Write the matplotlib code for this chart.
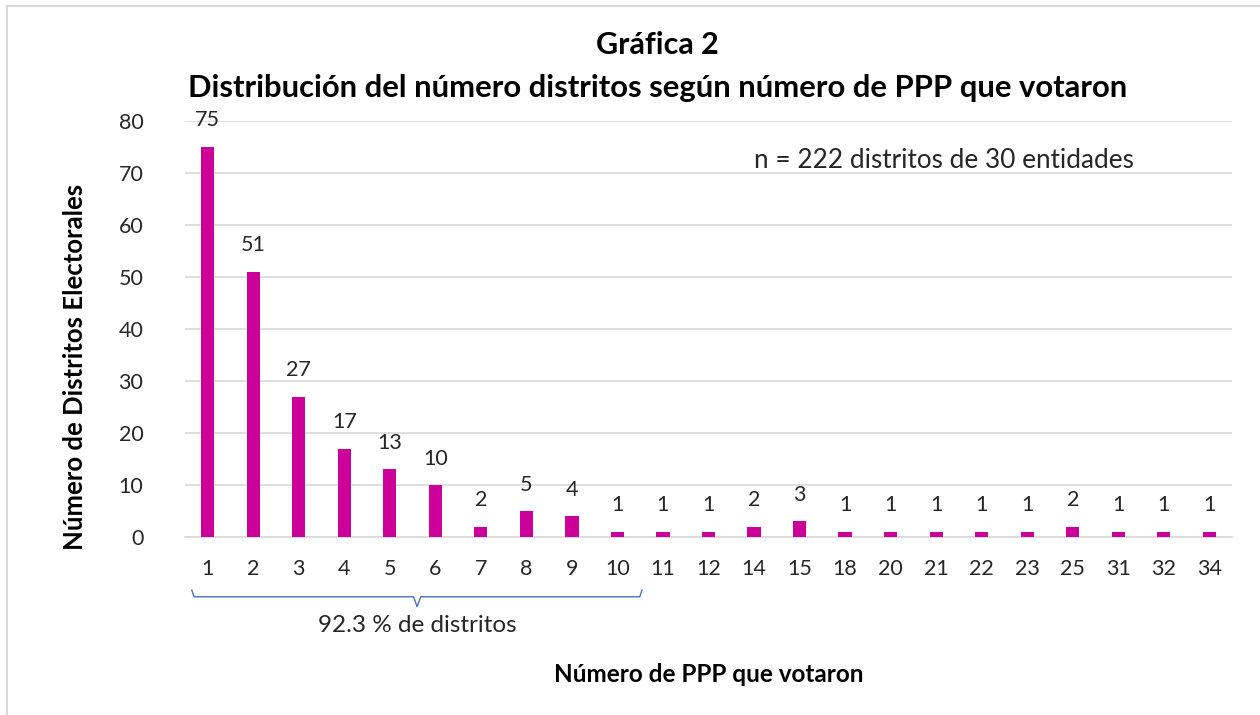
import numpy as np
import matplotlib.pyplot as plt
from matplotlib.lines import Line2D

plt.rcParams['font.family'] = ['Lato', 'DejaVu Sans']

# categorías: número de PPP que votaron
categorias = ['1', '2', '3', '4', '5', '6', '7', '8', '9', '10', '11', '12',
              '14', '15', '18', '20', '21', '22', '23', '25', '31', '32', '34']
distritos = [75, 51, 27, 17, 13, 10, 2, 5, 4, 1, 1, 1, 2, 3, 1, 1, 1, 1, 1,
             2, 1, 1, 1]

color_barra = '#CC0099'
color_grid = '#D9D9D9'

fig = plt.figure(figsize=(12.6, 7.15), dpi=100)
ax = fig.add_axes([0.1468, 0.249, 0.831, 0.582])

x = np.arange(len(categorias))
ax.bar(x, distritos, width=0.29, color=color_barra, zorder=3)

# etiquetas de datos
for xi, v in zip(x, distritos):
    ax.annotate(str(v), xy=(xi, v), xytext=(0, 19), textcoords='offset points',
                ha='center', va='center', fontsize=15.5, color='#262626')

ax.set_xlim(-0.5, len(categorias) - 0.5)
ax.set_ylim(0, 80)
ax.set_yticks(np.arange(0, 81, 10))
ax.set_xticks(x)
ax.set_xticklabels(categorias)
ax.yaxis.grid(True, color=color_grid, linewidth=1.2, zorder=0)
for s in ['top', 'right', 'left']:
    ax.spines[s].set_visible(False)
ax.spines['bottom'].set_color(color_grid)
ax.spines['bottom'].set_linewidth(1.2)
ax.tick_params(axis='both', length=0, labelsize=15.5, colors='#262626')
ax.tick_params(axis='x', pad=16)
ax.tick_params(axis='y', pad=30)

ax.set_ylabel('Número de Distritos Electorales', fontsize=18.5,
              fontweight='bold')
ax.yaxis.set_label_coords(-0.094, 0.409)
ax.set_xlabel('Número de PPP que votaron', fontsize=17.5, fontweight='bold',
              labelpad=60)

fig.text(0.522, 0.937, 'Gráfica 2', ha='center', va='center', fontsize=22,
         fontweight='bold')
fig.text(0.522, 0.877,
         'Distribución del número distritos según número de PPP que votaron',
         ha='center', va='center', fontsize=22.3, fontweight='bold')

ax.text(0.543, 0.905, 'n = 222 distritos de 30 entidades', transform=ax.transAxes,
        ha='left', va='center', fontsize=18.8, color='#262626')

# llave bajo las categorías 1-10
bx = [-0.35, -0.3, 4.52, 4.6, 4.68, 9.49, 9.54]
by = [-10.2, -11.5, -11.5, -13.4, -11.5, -11.5, -10.2]
ax.add_line(Line2D(bx, by, color='#4472C4', linewidth=1, clip_on=False))
ax.text(4.6, -17.1, '92.3 % de distritos', ha='center', va='center',
        fontsize=17.5, color='#262626')

# borde del área del gráfico
fig.add_artist(Line2D([7 / 1260, 7 / 1260], [0, 1 - 6 / 715],
                      transform=fig.transFigure, color='#D9D9D9', linewidth=1.5))
fig.add_artist(Line2D([7 / 1260, 1], [1 - 6 / 715, 1 - 6 / 715],
                      transform=fig.transFigure, color='#D9D9D9', linewidth=1.5))

fig.savefig('out.png', dpi=100)
